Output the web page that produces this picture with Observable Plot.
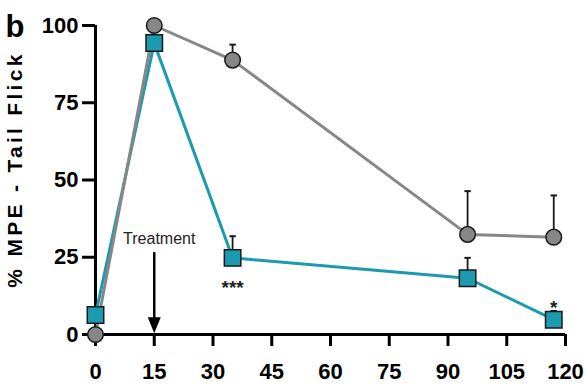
<!DOCTYPE html>
<html>
<head>
<meta charset="utf-8">
<script src="https://cdn.jsdelivr.net/npm/d3@7"></script>
<script src="https://cdn.jsdelivr.net/npm/@observablehq/plot@0.6"></script>
<style>
  body { margin: 0; background: #fff; }
  g[aria-description="ylabel"] text { letter-spacing: 3.3px; }
</style>
</head>
<body>
<div id="chart"></div>
<script>
// ---- data ----
const times      = [0, 15, 35, 95, 117];
const grayMean   = [0, 100, 88.8, 32.4, 31.5];
const grayErrTop = [null, null, 93.8, 46.4, 45];
const tealMean   = [6.3, 94.3, 24.8, 18.2, 4.8];
const tealErrTop = [null, null, 31.8, 24.8, 7.6];
const xTicks = [0, 15, 30, 45, 60, 75, 90, 105, 120];
const yTicks = [0, 25, 50, 75, 100];
const treatmentTime = 15;
const arrowTop = 26.5;
const arrowBottom = 0.4;
const yLabelCenter = 53.4;

const gray = times.map((t, i) => ({t, m: grayMean[i], e: grayErrTop[i]}));
const teal = times.map((t, i) => ({t, m: tealMean[i], e: tealErrTop[i]}));
const grayErr = gray.filter(d => d.e != null);
const tealErr = teal.filter(d => d.e != null);

const capSymbol = { draw(ctx) { ctx.moveTo(-3.2, 0); ctx.lineTo(3.2, 0); } };
const headSymbol = { draw(ctx) { ctx.moveTo(-6.5, -16); ctx.lineTo(6.5, -16); ctx.lineTo(0, 0); ctx.closePath(); } };

const GRAY = "#878787", TEAL = "#1b9ab0", EDGE = "#1a1a1a";

const chart = Plot.plot({
  width: 585,
  height: 390,
  marginLeft: 95,
  marginRight: 20,
  marginTop: 25,
  marginBottom: 56,
  style: { fontFamily: "'Liberation Sans', Arial, sans-serif", fontWeight: "bold", color: "#000", background: "#fff" },
  x: { domain: [0, 120] },
  y: { domain: [0, 100] },
  marks: [
    Plot.axisX({ ticks: xTicks, tickSize: 12, tickPadding: 17, fontSize: 22, strokeWidth: 3, label: null }),
    Plot.axisY({ ticks: yTicks, tickSize: 13, tickPadding: 4, fontSize: 22, strokeWidth: 3, label: null }),
    Plot.ruleY([0], { stroke: "#000", strokeWidth: 3 }),
    Plot.ruleX([0], { stroke: "#000", strokeWidth: 3 }),
    // error bars (upper only)
    Plot.ruleX(grayErr, { x: "t", y1: "m", y2: "e", stroke: EDGE, strokeWidth: 1.8 }),
    Plot.dot(grayErr, { x: "t", y: "e", symbol: capSymbol, stroke: EDGE, strokeWidth: 2, fill: "none" }),
    Plot.ruleX(tealErr, { x: "t", y1: "m", y2: "e", stroke: EDGE, strokeWidth: 1.8 }),
    Plot.dot(tealErr, { x: "t", y: "e", symbol: capSymbol, stroke: EDGE, strokeWidth: 2, fill: "none" }),
    // lines
    Plot.line(teal, { x: "t", y: "m", stroke: TEAL, strokeWidth: 3 }),
    Plot.line(gray, { x: "t", y: "m", stroke: GRAY, strokeWidth: 3 }),
    // markers
    Plot.dot(gray, { x: "t", y: "m", r: 7.8, fill: GRAY, stroke: EDGE, strokeWidth: 1.5 }),
    Plot.dot(teal, { x: "t", y: "m", r: 9.3, symbol: "square", fill: TEAL, stroke: EDGE, strokeWidth: 1.5 }),
    // treatment arrow
    Plot.ruleX([treatmentTime], { y1: arrowTop, y2: arrowBottom + 3, stroke: "#000", strokeWidth: 2.5 }),
    Plot.dot([treatmentTime], { x: d => d, y: () => arrowBottom, symbol: headSymbol, fill: "#000", stroke: "none" }),
    Plot.text(["Treatment"], { x: () => treatmentTime, y: () => arrowTop, dx: 5, dy: -14, fontSize: 16, fontWeight: "normal", fill: "#222" }),
    // significance
    Plot.text([teal[2]], { x: "t", y: "m", text: () => "***", dy: 30, fontSize: 19, fill: "#222" }),
    Plot.text([teal[4]], { x: "t", y: "m", text: () => "*", dy: -12, fontSize: 19, fill: "#222" }),
    // panel letter and axis label
    Plot.text(["b"], { frameAnchor: "top-left", dx: -90, dy: 2, textAnchor: "start", lineAnchor: "middle", fontSize: 31, fontWeight: "bold" }),
    Plot.text(["% MPE - Tail Flick"], { y: () => yLabelCenter, frameAnchor: "left", dx: -80, rotate: -90, textAnchor: "middle", lineAnchor: "middle", fontSize: 21, fontWeight: "bold", ariaDescription: "ylabel" })
  ]
});
document.getElementById("chart").appendChild(chart);
</script>
</body>
</html>
